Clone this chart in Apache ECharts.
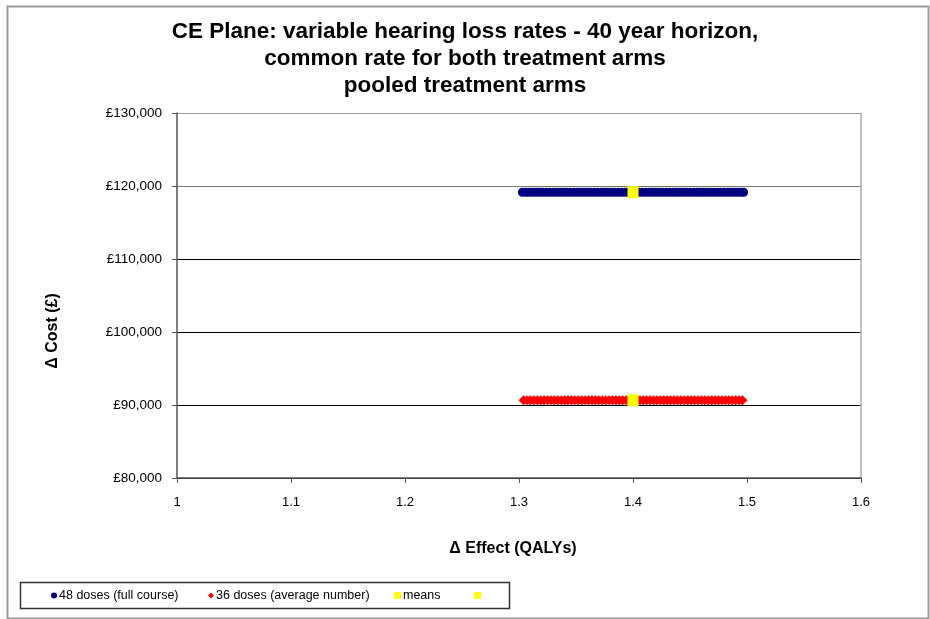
<!DOCTYPE html>
<html>
<head>
<meta charset="utf-8">
<script src="https://cdn.jsdelivr.net/npm/echarts@6/dist/echarts.min.js"></script>
<style>
  html, body { margin: 0; padding: 0; background: #fff; }
  #main { width: 930px; height: 619px; }
</style>
</head>
<body>
<div id="main"></div>
<script>
// values
var fullCourseX = [1.303, 1.306, 1.309, 1.312, 1.315, 1.318, 1.321, 1.324, 1.327, 1.330,
  1.333, 1.336, 1.339, 1.342, 1.345, 1.348, 1.351, 1.354, 1.357, 1.360, 1.363, 1.366,
  1.369, 1.372, 1.375, 1.378, 1.381, 1.384, 1.387, 1.390, 1.393, 1.396, 1.399, 1.402,
  1.405, 1.408, 1.411, 1.414, 1.417, 1.420, 1.423, 1.426, 1.429, 1.432, 1.435, 1.438,
  1.441, 1.444, 1.447, 1.450, 1.453, 1.456, 1.459, 1.462, 1.465, 1.468, 1.471, 1.474,
  1.477, 1.480, 1.483, 1.486, 1.489, 1.492, 1.495, 1.497]
var fullCourseCost = 119150
var averageX = [1.304, 1.307, 1.310, 1.313, 1.316, 1.319, 1.322, 1.325, 1.328, 1.331,
  1.334, 1.337, 1.340, 1.343, 1.346, 1.349, 1.352, 1.355, 1.358, 1.361, 1.364, 1.367,
  1.370, 1.373, 1.376, 1.379, 1.382, 1.385, 1.388, 1.391, 1.394, 1.397, 1.400, 1.403,
  1.406, 1.409, 1.412, 1.415, 1.418, 1.421, 1.424, 1.427, 1.430, 1.433, 1.436, 1.439,
  1.442, 1.445, 1.448, 1.451, 1.454, 1.457, 1.460, 1.463, 1.466, 1.469, 1.472, 1.475,
  1.478, 1.481, 1.484, 1.487, 1.490, 1.493, 1.496]
var averageCost = 90650
var meanEffect = [1.40, 1.40]
var meanCost = [119150, 90650]
var seriesNames = ['48 doses (full course)', '36 doses (average number)', 'means', ' ']
var titleLines = ['CE Plane: variable hearing loss rates - 40 year horizon,',
  'common rate for both treatment arms', 'pooled treatment arms']

var myChart = echarts.init(document.getElementById('main'))

var legendText = { fontSize: 12.5, color: '#000', padding: [0, 0, 0, -3] }
function oneLegend(name, icon, color, left) {
  return {
    data: [{ name: name, icon: icon, itemStyle: { color: color } }],
    left: left,
    top: 584,
    itemWidth: icon === 'rect' ? 7 : 6,
    itemHeight: icon === 'rect' ? 7 : 6,
    textStyle: legendText
  }
}

var option = {
  backgroundColor: '#fff',
  animation: false,
  textStyle: { fontFamily: 'Liberation Sans, Arial, sans-serif' },
  title: {
    text: titleLines.join('\n'),
    left: 'center',
    top: 13,
    textStyle: { fontSize: 22.5, fontWeight: 'bold', color: '#000', lineHeight: 27 }
  },
  graphic: [
    // outer chart frame
    { type: 'rect', left: 5, top: 4, shape: { width: 921, height: 612 },
      style: { fill: 'none', stroke: '#999', lineWidth: 2 }, silent: true },
    // legend frame
    { type: 'rect', left: 18, top: 580, shape: { width: 489, height: 26 },
      style: { fill: 'none', stroke: '#333', lineWidth: 1.5 }, silent: true },
    // y axis title
    { type: 'text', x: 53, y: 331, rotation: Math.PI / 2,
      style: { text: 'Δ Cost (£)', font: 'bold 16px Liberation Sans, Arial, sans-serif',
        fill: '#000', align: 'center', verticalAlign: 'middle' }, silent: true }
  ],
  legend: [
    oneLegend(seriesNames[0], 'circle', '#000080', 46),
    oneLegend(seriesNames[1], 'diamond', '#ff0000', 203),
    oneLegend(seriesNames[2], 'rect', '#ffff00', 389),
    oneLegend(seriesNames[3], 'rect', '#ffff00', 469)
  ],
  grid: { left: 177, right: 69, top: 113, bottom: 141 },
  xAxis: {
    type: 'value',
    min: 1,
    max: 1.6,
    interval: 0.1,
    name: 'Δ Effect (QALYs)',
    nameLocation: 'middle',
    nameGap: 63,
    nameTextStyle: { fontSize: 16, fontWeight: 'bold', color: '#000', padding: [0, 12, 0, 0] },
    axisLine: { lineStyle: { color: '#555', width: 1.5 } },
    axisTick: { show: true, length: 5, lineStyle: { color: '#555' } },
    axisLabel: { fontSize: 13, color: '#000', margin: 18 },
    splitLine: {
      show: true,
      lineStyle: { color: ['rgba(0,0,0,0)', 'rgba(0,0,0,0)', 'rgba(0,0,0,0)', 'rgba(0,0,0,0)',
        'rgba(0,0,0,0)', 'rgba(0,0,0,0)', '#aaa'], width: 1.5 }
    }
  },
  yAxis: {
    type: 'value',
    min: 80000,
    max: 130000,
    interval: 10000,
    axisLine: { show: true, lineStyle: { color: '#555', width: 1.5 } },
    axisTick: { show: true, length: 5, lineStyle: { color: '#555' } },
    axisLabel: {
      fontSize: 13.5, color: '#000', margin: 15,
      formatter: function (v) { return '£' + v.toLocaleString('en-GB') }
    },
    splitLine: {
      show: true,
      lineStyle: { color: ['#000', '#000', '#000', '#000', '#777', '#999'], width: 1.2 }
    }
  },
  series: [
    {
      name: seriesNames[0],
      type: 'scatter',
      symbol: 'circle',
      symbolSize: 9,
      itemStyle: { color: '#000080', opacity: 1 },
      data: fullCourseX.map(function (x) { return [x, fullCourseCost] })
    },
    {
      name: seriesNames[1],
      type: 'scatter',
      symbol: 'diamond',
      symbolSize: 10,
      itemStyle: { color: '#ff0000', opacity: 1 },
      data: averageX.map(function (x) { return [x, averageCost] })
    },
    {
      name: seriesNames[2],
      type: 'scatter',
      symbol: 'rect',
      symbolSize: [11, 12],
      z: 5,
      itemStyle: { color: '#ffff00', opacity: 1 },
      data: [[meanEffect[0], meanCost[0]]]
    },
    {
      name: seriesNames[3],
      type: 'scatter',
      symbol: 'rect',
      symbolSize: [11, 12],
      z: 5,
      itemStyle: { color: '#ffff00', opacity: 1 },
      data: [[meanEffect[1], meanCost[1]]]
    }
  ]
}

myChart.setOption(option)
</script>
</body>
</html>
